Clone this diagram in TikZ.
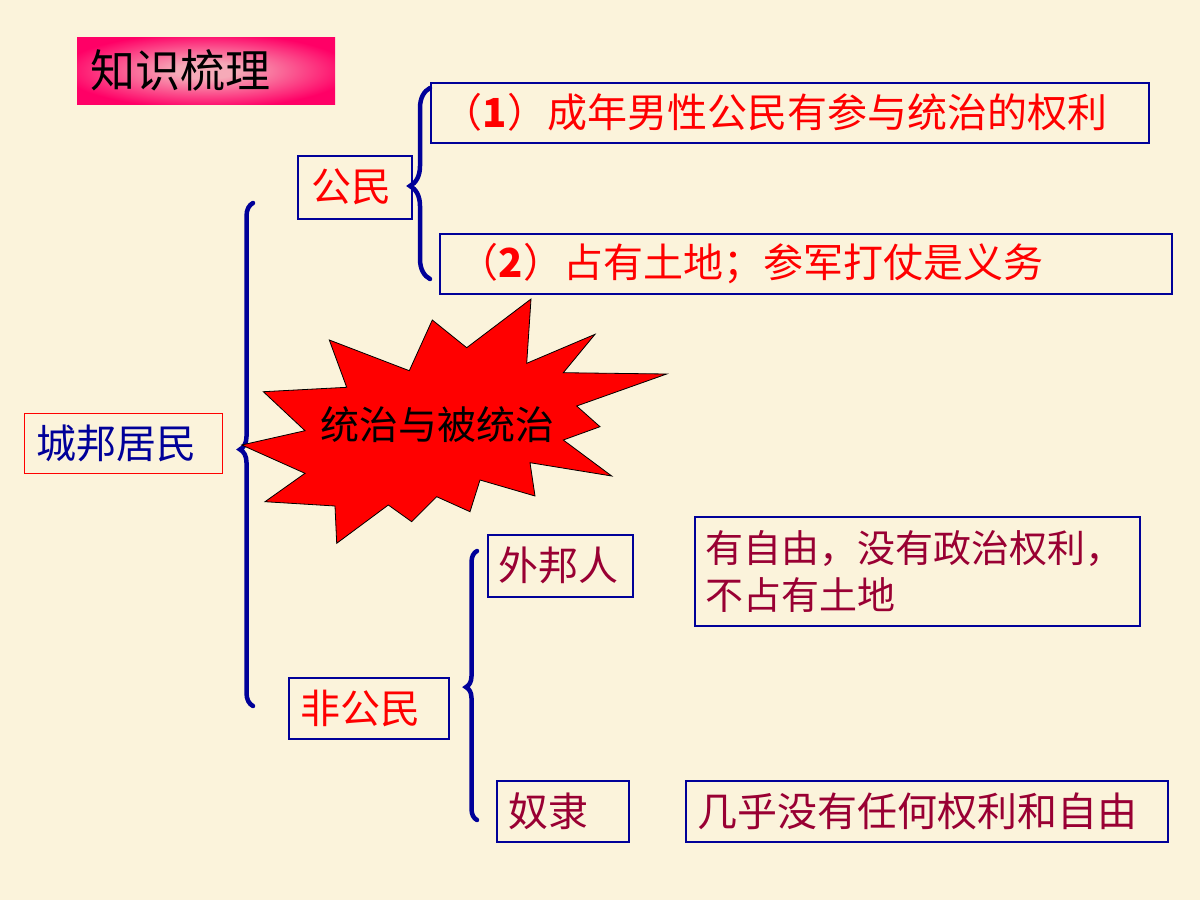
\documentclass[tikz,border=0pt]{standalone}
\usepackage{fontspec}
\newfontfamily\cjk{Noto Sans CJK SC}
\usetikzlibrary{positioning,decorations.pathreplacing}
\definecolor{paper}{RGB}{251,243,219}
\definecolor{navy}{RGB}{0,0,153}
\definecolor{wine}{RGB}{153,0,51}
\definecolor{hotpink}{RGB}{255,0,102}
\definecolor{palepink}{RGB}{246,170,184}
\pgfdeclareradialshading{titleglow}{\pgfpointorigin}{color(0bp)=(palepink); color(6bp)=(palepink); color(28bp)=(hotpink); color(50bp)=(hotpink)}
\tikzset{cbox/.style={draw=navy, line width=1.5pt, anchor=north west, inner xsep=12pt, inner ysep=0pt, align=left, font=\cjk\fontsize{40pt}{47pt}\selectfont}}
\tikzset{brc/.style 2 args={draw=navy, line width=4.5pt, line cap=round, decorate, decoration={brace, amplitude=#1, aspect=#2}}}

\begin{document}
\begin{tikzpicture}[x=1pt, y=-1pt]
  \fill[paper] (0,0) rectangle (1200,900);
  \useasboundingbox (0,0) rectangle (1200,900);

  % title
  \shade[shading=titleglow] (77,37) rectangle (335,104);
  \node[anchor=north west, inner xsep=13pt, inner ysep=0pt, text width=232pt, minimum height=67pt, align=left,
        font=\cjk\fontsize{45pt}{45pt}\selectfont] (title) at (77,37) {知识梳理};

  % citizens
  \node[cbox, draw=red, line width=1pt, text=navy, text width=174pt, minimum height=60pt] (cb) at (24,413) {城邦居民};
  \node[cbox, text=red, inner xsep=14pt, text width=86pt, minimum height=63pt] (gm) at (297,155) {公民};
  \node[cbox, text=red, text width=694pt, minimum height=60pt] (r1) at (430,82) {（{\bfseries 1}）成年男性公民有参与统治的权利};
  \node[cbox, text=red, inner xsep=19pt, text width=694pt, minimum height=60pt] (r2) at (439,233) {（{\bfseries 2}）占有土地；参军打仗是义务};

  % non-citizens
  \node[cbox, text=red, text width=136pt, minimum height=61pt] (fg) at (288,677) {非公民};
  \node[cbox, text=wine, inner xsep=11pt, text width=123pt, minimum height=62pt] (wb) at (487,534) {外邦人};
  \node[cbox, text=wine, text width=108pt, minimum height=61pt] (nl) at (496,780) {奴隶};
  \node[cbox, text=wine, inner xsep=11pt, text width=423pt, minimum height=109pt,
        font=\cjk\fontsize{38pt}{47pt}\selectfont] (d1) at (694,516) {有自由，没有政治权利，\\不占有土地};
  \node[cbox, text=wine, text width=458pt, minimum height=61pt] (d2) at (685,780) {几乎没有任何权利和自由};

  % braces
  \coordinate (bigTop) at (253,203);
  \coordinate (bigBot) at (253,706);
  \coordinate (gmTop) at (430,88);
  \coordinate (gmBot) at (430,279);
  \coordinate (fgTop) at (477,551);
  \coordinate (fgBot) at (477,820);
  \draw[brc={13pt}{0.51}] (bigBot) -- (bigTop);
  \draw[brc={20pt}{0.487}] (gmBot) -- (gmTop);
  \draw[brc={11pt}{0.494}] (fgBot) -- (fgTop);

  % starburst
  \filldraw[fill=red, draw=black, line width=0.8pt]
    (241.7,445) -- (305,430.7) -- (263.3,391.7) -- (346.7,387.3) -- (329.3,340) -- (409.3,370.7)
    -- (432.3,320) -- (466.7,347.7) -- (531,299) -- (526.7,363.3) -- (595,334.3) -- (563.3,372.7)
    -- (666.7,374) -- (576.7,406) -- (600,426.7) -- (563.3,440) -- (611.7,476) -- (530,462.7)
    -- (535,496) -- (480,480) -- (470,511.7) -- (436.7,496.7) -- (411.7,521.7) -- (388.3,505)
    -- (336.7,543.3) -- (335,506) -- (265,501.7) -- (305,473.3) -- cycle;
  \node[font=\cjk\fontsize{39pt}{39pt}\selectfont] (burst) at (437.5,425) {统治与被统治};
\end{tikzpicture}
\end{document}
